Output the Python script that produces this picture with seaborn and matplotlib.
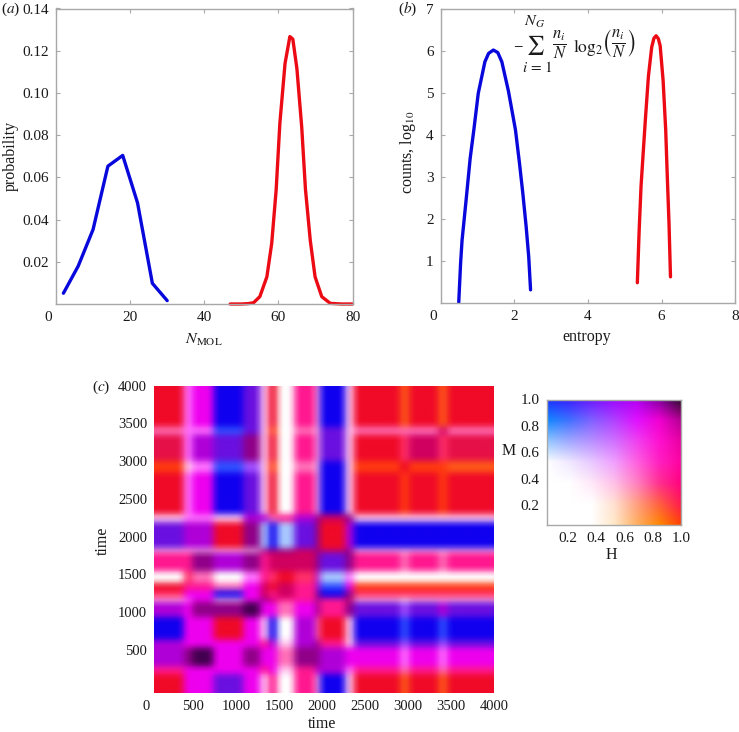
import numpy as np
import matplotlib
matplotlib.use("Agg")
import matplotlib.pyplot as plt
from matplotlib.colors import to_rgb
from matplotlib.transforms import ScaledTranslation
import seaborn as sns

sns.set_style("ticks")
plt.rcParams['font.family'] = ['Liberation Serif', 'DejaVu Serif']
plt.rcParams['mathtext.fontset'] = 'stix'
plt.rcParams['font.size'] = 11
plt.rcParams['text.color'] = '#1a1a1a'
plt.rcParams['axes.labelcolor'] = '#1a1a1a'
plt.rcParams['xtick.labelcolor'] = '#1a1a1a'
plt.rcParams['ytick.labelcolor'] = '#1a1a1a'

# (a) probability of N_MOL
mol_blue_x = [2, 6, 10, 14, 18, 22, 26, 30]
mol_blue_y = [0.0051, 0.018, 0.0353, 0.0653, 0.0704, 0.0479, 0.0098, 0.0016]
mol_red_x = [47, 50, 52, 53.3, 55, 56.9, 58.2, 59.4, 60.4, 61.8, 63.1, 63.9, 65, 66.3, 67.3, 68.6, 69.9, 71.7, 74, 77, 80]
mol_red_y = [0, 0, 0.0002, 0.0006, 0.0035, 0.0129, 0.0287, 0.054, 0.0856, 0.114, 0.1267, 0.1255, 0.1115, 0.0838, 0.0545, 0.0302, 0.0129, 0.0035, 0.0003, 0, 0]

# (b) counts vs entropy
ent_blue_x = [0.49, 0.54, 0.58, 0.69, 0.80, 0.90, 1.02, 1.20, 1.30, 1.43, 1.55, 1.66, 1.84, 2.03, 2.14, 2.23, 2.32, 2.39, 2.44]
ent_blue_y = [0.02, 0.95, 1.5, 2.46, 3.45, 4.13, 5.0, 5.75, 5.95, 6.03, 5.97, 5.75, 5.05, 4.13, 3.33, 2.62, 1.83, 1.11, 0.32]
ent_red_x = [5.34, 5.39, 5.44, 5.50, 5.56, 5.64, 5.73, 5.79, 5.85, 5.91, 5.96, 6.04, 6.11, 6.15, 6.20, 6.24]
ent_red_y = [0.49, 1.75, 2.78, 3.6, 4.4, 5.4, 6.1, 6.31, 6.37, 6.3, 6.13, 5.3, 4.13, 3.1, 1.9, 0.63]

# (c) colours by band; rows run from t=4000 down to t=0
band_colors = {
    'R': '#f00a28', 'C': '#e61048', 'O': '#ff3a10', 'o': '#ff5a18', 'c': '#ff3068',
    'P': '#ff1890', 'p': '#ff70b8', 'M': '#ee00ee', 'm': '#ff70ff', 'V': '#6a10e0',
    'v': '#b000d8', 'l': '#a050ff', 'B': '#1000f0', 'b': '#3050ff', 'L': '#a8c8ff',
    'W': '#ffffff', 'w': '#ffc8f0', 'D': '#440050', 'd': '#900088', 'H': '#d00060',
}
col_widths = [7, 2, 5, 7, 4, 2, 2, 4, 5, 1, 6, 2, 11, 2, 7, 2, 11]  # 50-unit steps
row_heights = [11, 2, 7, 3, 11, 2, 7, 1, 5, 3, 2, 2, 1, 4, 6, 2, 5, 2, 5]
band_rows = [
    "RmMBVwRWPwBwRoRoR",
    "pmmbVwOWpwVwpppHp",
    "CmvVdwRWPwVwRcHcC",
    "OwmblwOWpwBwOROOo",
    "RmMBVwRWPwBwROROR",
    "wmmwvvpPvdHdwwwww",
    "VvvRdLBLVdRvBBBBB",
    "wwwwwdddHdHdwwwww",
    "PPdvdPHHHdVdPpPpP",
    "WcpWmPcRcvLmWWWWW",
    "RPPpMHRHPvbMOOOOO",
    "cMMBMHPHPdBdccccc",
    "wmMwMdHPPdPHwWwww",
    "vMddDMMpMdPdVlVvV",
    "BMMRMwBWvpRwBbBbB",
    "vMMMMPvwvdPwVlVlV",
    "vdDMdMMpddvMMmMmM",
    "PMMMMPMwPvvmPpPpP",
    "RMMVMwPWPwBwRoRoR",
]
time_ticks = [500, 1000, 1500, 2000, 2500, 3000, 3500, 4000]

# colour key, M from 1.0 down to 0.05 and H from 0.05 up to 1.0
key_rows = [
    ['#1a30ff', '#3a20ff', '#6a18ff', '#9a08ff', '#b000f0', '#8000a0', '#201020'],
    ['#1088ff', '#4070ff', '#8060ff', '#b040ff', '#e010ff', '#f000d0', '#b00090'],
    ['#90c8ff', '#a0a8ff', '#b890ff', '#d070ff', '#f040f0', '#ff10d0', '#e800a0'],
    ['#ffffff', '#f0e8ff', '#e8c8ff', '#f0a0ff', '#ff60e0', '#ff20c0', '#ff00a0'],
    ['#ffffff', '#ffffff', '#ffe8f8', '#ffc0e8', '#ff80c0', '#ff3090', '#ff0080'],
    ['#ffffff', '#ffffff', '#ffffff', '#ffe0d0', '#ffa080', '#ff6040', '#ff1850'],
    ['#ffffff', '#ffffff', '#ffffff', '#ffe8c8', '#ffb060', '#ff8800', '#ff4000'],
]

W, H = 739, 732
FRAME = '#a8a8a8'
BLUE = '#0808dc'
RED = '#ec0a14'

fig = plt.figure(figsize=(W / 100, H / 100), dpi=100)


def add_axes(left, right, top, bottom):
    # pixel box to figure fractions
    return fig.add_axes([left / W, 1 - bottom / H, (right - left) / W, (bottom - top) / H])


def put(px, py, s, size=11.5, **kw):
    # text at a pixel position
    fig.text(px / W, 1 - py / H, s, ha='center', va='center', fontsize=size, **kw)


def style_axes(ax, tick_len=3, labelsize=11):
    for s in ax.spines.values():
        s.set_color(FRAME)
        s.set_linewidth(1.0)
    ax.tick_params(direction='in', length=tick_len, width=0.8, color=FRAME,
                   top=tick_len > 0, right=tick_len > 0, labelsize=labelsize, pad=5)


def shift_zero(ax):
    # the zero label sits to the left of its tick
    lab = ax.get_xticklabels()[0]
    lab.set_transform(lab.get_transform() + ScaledTranslation(-7.5 / 100, 0, fig.dpi_scale_trans))


def draw(ax, x, y, color):
    sns.lineplot(x=x, y=y, color=color, sort=False, estimator=None, linewidth=2.4, ax=ax, clip_on=False)


def soften(a, axis):
    # light [1, 2, 1] blur along one axis, the source image is a blurry scan
    pad = [(1, 1) if i == axis else (0, 0) for i in range(3)]
    b = np.pad(a, pad, mode='edge')
    lo = np.take(b, range(0, b.shape[axis] - 2), axis=axis)
    mid = np.take(b, range(1, b.shape[axis] - 1), axis=axis)
    hi = np.take(b, range(2, b.shape[axis]), axis=axis)
    return (lo + 2 * mid + hi) / 4


# panel a
ax_a = add_axes(56, 352.5, 8.5, 304)
draw(ax_a, mol_blue_x, mol_blue_y, BLUE)
draw(ax_a, mol_red_x, mol_red_y, RED)
ax_a.set_xlim(0, 80)
ax_a.set_ylim(0, 0.14)
ax_a.set_xticks([0, 20, 40, 60, 80])
ax_a.set_yticks([0.02, 0.04, 0.06, 0.08, 0.10, 0.12, 0.14])
ax_a.set_yticklabels(['0.02', '0.04', '0.06', '0.08', '0.10', '0.12', '0.14'])
style_axes(ax_a)
shift_zero(ax_a)
put(204, 340, r'$N_{\mathrm{MOL}}$')
put(11, 156, 'probability', rotation=90)
put(11, 9, r'($a$)', 11)

# panel b
ax_b = add_axes(440.7, 735.3, 9.3, 303.3)
draw(ax_b, ent_blue_x, ent_blue_y, BLUE)
draw(ax_b, ent_red_x, ent_red_y, RED)
ax_b.set_xlim(0, 8)
ax_b.set_ylim(0, 7)
ax_b.set_xticks([0, 2, 4, 6, 8])
ax_b.set_yticks([1, 2, 3, 4, 5, 6, 7])
style_axes(ax_b)
shift_zero(ax_b)
put(587, 337, 'entropy')
put(408, 152, r'counts, log$_{10}$', rotation=90)
put(408, 9, r'($b$)', 11)

# entropy formula, set piece by piece as in the source
put(518, 45, r'$-$', 10)
put(535, 45, r'$\sum$', 14)
put(535, 22, r'$N_G$', 11.5)
put(537, 67, r'$i\,=\,1$', 11)
put(560, 45, r'$\frac{n_i}{N}$', 17)
put(588, 47, r'$\log_2$', 12.5)
put(619, 44, r'$\left(\frac{n_i}{N}\right)$', 17)

# panel c
cells = np.array([[to_rgb(band_colors[c]) for c in row] for row in band_rows])
cells = np.repeat(np.repeat(cells, row_heights, axis=0), col_widths, axis=1)
cells = soften(soften(cells, 0), 1)
left_t, bottom_t = 46.5, -71
ax_c = add_axes(154, 494, 385.7, 693)
ax_c.imshow(cells, extent=(left_t, 4000, bottom_t, 4000), aspect='auto', interpolation='gaussian')
ax_c.set_xticks([left_t] + time_ticks)
ax_c.set_xticklabels(['0'] + [str(t) for t in time_ticks])
ax_c.set_yticks(time_ticks)
style_axes(ax_c, tick_len=0, labelsize=10.5)
for s in ax_c.spines.values():
    s.set_visible(False)
shift_zero(ax_c)
put(322, 724, 'time')
put(103, 541, 'time', rotation=90)
put(101, 387, r'($c$)', 11)

# colour key
key = np.array([[to_rgb(c) for c in row] for row in key_rows])
step = 0.95 / (len(key_rows) - 1)
ax_k = add_axes(546.7, 681, 399.5, 525)
ax_k.imshow(key, extent=(0.05 - step / 2, 1 + step / 2, 0.05 - step / 2, 1 + step / 2),
            aspect='auto', interpolation='bilinear')
ax_k.set_xlim(0.05, 1)
ax_k.set_ylim(0.05, 1)
ax_k.set_xticks([0.2, 0.4, 0.6, 0.8, 1.0])
ax_k.set_yticks([0.2, 0.4, 0.6, 0.8, 1.0])
style_axes(ax_k, tick_len=0)
put(611, 555, 'H')
put(509, 451, 'M')

fig.savefig("out.png", dpi=100)
